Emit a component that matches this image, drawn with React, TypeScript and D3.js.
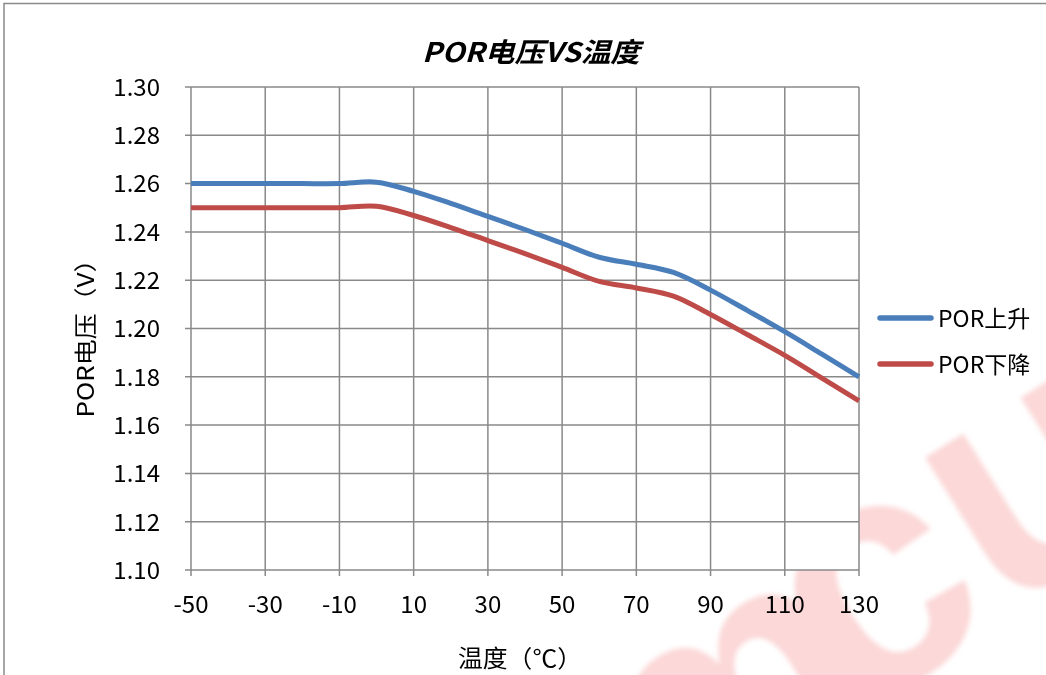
import React from "react";
import * as d3 from "d3";

const temps = [-50, -40, -30, -20, -10, 0, 10, 20, 30, 40, 50, 60, 70, 80, 90, 100, 110, 120, 130];
const porRise = [1.26, 1.26, 1.26, 1.26, 1.26, 1.2606, 1.2568, 1.2518, 1.2464, 1.241, 1.2353, 1.2295, 1.2266, 1.2232, 1.2159, 1.2074, 1.1987, 1.1894, 1.18];
const porFall = [1.25, 1.25, 1.25, 1.25, 1.25, 1.2506, 1.2468, 1.2418, 1.2364, 1.231, 1.2253, 1.2195, 1.2168, 1.2134, 1.2058, 1.1974, 1.1889, 1.1795, 1.17];
const xTicks = [-50, -30, -10, 10, 30, 50, 70, 90, 110, 130];
const yTicks = [1.1, 1.12, 1.14, 1.16, 1.18, 1.2, 1.22, 1.24, 1.26, 1.28, 1.3];
const seriesNames = ["POR上升", "POR下降"];
const seriesColors = ["#4A7EBB", "#BE4B48"];
const title = "POR电压VS温度";
const xTitle = "温度（℃）";
const yTitle = "POR电压（V）";
const watermarkLetters = ["m", "c", "u"];

const FONT = "'Noto Sans CJK SC', 'Noto Sans', sans-serif";
const GRID = "#898989";

export default function App() {
  const x = d3.scaleLinear().domain([-50, 130]).range([191, 859]);
  const y = d3.scaleLinear().domain([1.1, 1.3]).range([570, 87]);
  const line = d3
    .line<[number, number]>()
    .x((d) => x(d[0]))
    .y((d) => y(d[1]))
    .curve(d3.curveCatmullRom.alpha(0.5));
  const series = [porRise, porFall].map((vals) => temps.map((t, i) => [t, vals[i]] as [number, number]));

  // watermark letter centres (page pixels)
  const wmCenters: [number, number][] = [
    [730, 720],
    [880, 600],
    [1040, 490],
  ];
  const wmSize = 330;

  return (
    <svg
      width={1046}
      height={675}
      style={{ position: "absolute", left: 0, top: 0, background: "#fff" }}
      fontFamily={FONT}
    >
      <defs>
        <filter id="wmblur" x="-20%" y="-20%" width="140%" height="140%">
          <feGaussianBlur stdDeviation="2.5" />
        </filter>
      </defs>
      <rect x={0} y={0} width={1046} height={675} fill="#fff" />
      {/* watermark */}
      <g filter="url(#wmblur)">
        {watermarkLetters.map((ch, i) => (
          <text
            key={"wm" + i}
            transform={`translate(${wmCenters[i][0]} ${wmCenters[i][1]}) rotate(-32)`}
            x={0}
            y={wmSize * 0.26}
            textAnchor="middle"
            fontFamily="'Liberation Sans', Arial, sans-serif"
            fontWeight="bold"
            fontSize={wmSize}
            fill="#FCD8D8"
          >
            {ch}
          </text>
        ))}
      </g>
      {/* chart border */}
      <rect x={4} y={3.5} width={1100} height={700} fill="none" stroke="#8A8A8A" strokeWidth={1.5} />
      {/* plot area */}
      <rect x={x(-50)} y={y(1.3)} width={x(130) - x(-50)} height={y(1.1) - y(1.3)} fill="#fff" />
      {/* grid */}
      {yTicks.map((v) => (
        <line key={"gy" + v} x1={x(-50) - 6} x2={x(130)} y1={y(v)} y2={y(v)} stroke={GRID} strokeWidth={1.5} />
      ))}
      {xTicks.map((t) => (
        <line key={"gx" + t} x1={x(t)} x2={x(t)} y1={y(1.3)} y2={y(1.1) + 6} stroke={GRID} strokeWidth={1.5} />
      ))}
      {/* y tick labels */}
      {yTicks.map((v) => (
        <text key={"ly" + v} x={160} y={y(v) + 8.8} textAnchor="end" fontSize={24} fill="#000">
          {v.toFixed(2)}
        </text>
      ))}
      {/* x tick labels */}
      {xTicks.map((t) => (
        <text key={"lx" + t} x={x(t)} y={613} textAnchor="middle" fontSize={24} fill="#000">
          {t}
        </text>
      ))}
      {/* series */}
      {series.map((s, i) => (
        <path key={"s" + i} d={line(s) || ""} fill="none" stroke={seriesColors[i]} strokeWidth={5} strokeLinejoin="round" />
      ))}
      {/* title */}
      <text
        x={531}
        y={62}
        textAnchor="middle"
        fontSize={27}
        fontWeight="bold"
        fontStyle="italic"
        textLength={218}
        lengthAdjust="spacingAndGlyphs"
        fill="#000"
      >
        {title}
      </text>
      {/* axis titles */}
      <text x={520} y={667} textAnchor="middle" fontSize={24} textLength={124} lengthAdjust="spacingAndGlyphs" fill="#000">
        {xTitle}
      </text>
      <text
        x={0}
        y={0}
        transform="translate(94 332) rotate(-90)"
        textAnchor="middle"
        fontSize={23}
        textLength={171}
        lengthAdjust="spacingAndGlyphs"
        fill="#000"
      >
        {yTitle}
      </text>
      {/* legend */}
      {seriesNames.map((n, i) => (
        <g key={"lg" + i}>
          <line x1={880} x2={931} y1={318 + i * 46} y2={318 + i * 46} stroke={seriesColors[i]} strokeWidth={5.5} strokeLinecap="round" />
          <text x={938} y={318 + i * 46 + 8.5} fontSize={23} fill="#000">
            {n}
          </text>
        </g>
      ))}
    </svg>
  );
}
